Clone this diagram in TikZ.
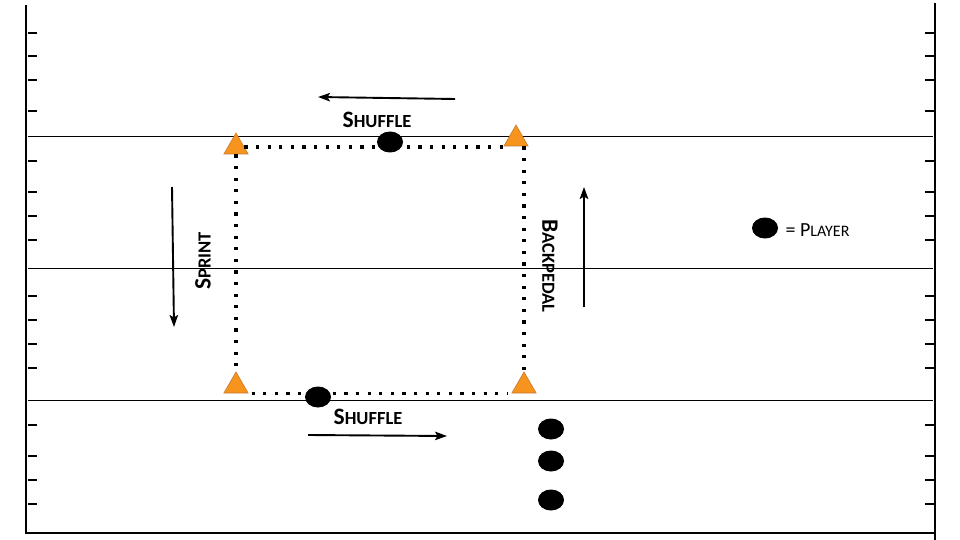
\documentclass[tikz,border=0pt]{standalone}
\usepackage{fontspec}
\setmainfont{Carlito}
\usetikzlibrary{shapes.geometric, arrows.meta}

\definecolor{conefill}{RGB}{247,148,29}
\definecolor{coneline}{RGB}{196,122,48}
\newcommand{\drillword}[2]{\textbf{{\fontsize{23.5}{23.5}\selectfont #1}{\fontsize{18.5}{18.5}\selectfont #2}}}

\begin{document}
\begin{tikzpicture}[x=1pt,y=-1pt,
		cone/.style={regular polygon, regular polygon sides=3, minimum size=28pt, inner sep=0pt, fill=conefill, draw=coneline, line width=0.6pt},
		player/.style={ellipse, fill=black, minimum width=26pt, minimum height=21pt, inner sep=0pt},
		route/.style={line width=3.2pt, dash pattern=on 3.2pt off 8.4pt},
		move/.style={-{Stealth[length=12pt,width=8.5pt,inset=2.5pt]}, line width=1.9pt},
		tick/.style={line width=2pt}]
			\useasboundingbox (0,0) rectangle (960,540);

			\draw[line width=2pt] (26,5) -- (26,533) -- (935,533);
			\draw[line width=2pt] (935,3) -- (935,540);
			\foreach \y in {137,268,400}
				\draw[line width=1pt] (28,\y) -- (933,\y);
			\foreach \y in {33,56,80,111,161,192,216,240,296,320,344,368,425,456,480,504} {
				\draw[tick] (28,\y) -- (37,\y);
				\draw[tick] (925,\y) -- (934,\y);
			}

			\node[cone] (c1) at (236,147) {};
			\node[cone] (c2) at (516,139) {};
			\node[cone] (c3) at (236,386) {};
			\node[cone] (c4) at (524,386) {};

			\draw[route] (c1.east) -- (c1.east -| c2.corner 2);
			\draw[route] (c1.south) -- (c3.corner 1);
			\draw[route] (c4.corner 1 |- c2.south) -- (c4.corner 1);
			\draw[route, shorten <=3pt, shorten >=3pt] (c3.corner 3) -- (c4.corner 2);

			\node[player] (p1) at (390,142) {};
			\node[player] (p2) at (318,397) {};
			\node[player] (p3) at (551,429) {};
			\node[player] (p4) at (551,461) {};
			\node[player] (p5) at (551,500) {};
			\node[player] (key) at (765,228) {};

			\coordinate (a1s) at (455,99);
			\coordinate (a1e) at (318,97);
			\coordinate (a2s) at (172,187);
			\coordinate (a2e) at (174,327);
			\coordinate (a3s) at (584,307);
			\coordinate (a3e) at (584,187);
			\coordinate (a4s) at (308,435);
			\coordinate (a4e) at (447,436);
			\draw[move] (a1s) -- (a1e);
			\draw[move] (a2s) -- (a2e);
			\draw[move] (a3s) -- (a3e);
			\draw[move] (a4s) -- (a4e);

			\node (shuffletop) at (377,120) {\drillword{S}{HUFFLE}};
			\node (shufflebot) at (368,417) {\drillword{S}{HUFFLE}};
			\node[rotate=90] (sprint) at (203,261) {\drillword{S}{PRINT}};
			\node[rotate=-90] (backpedal) at (550,266) {\drillword{B}{ACKPEDAL}};
			\node[anchor=west] (keytext) at (782,230) {{\fontsize{20}{20}\selectfont = P}{\fontsize{16}{16}\selectfont LAYER}};
		\end{tikzpicture}
\end{document}
